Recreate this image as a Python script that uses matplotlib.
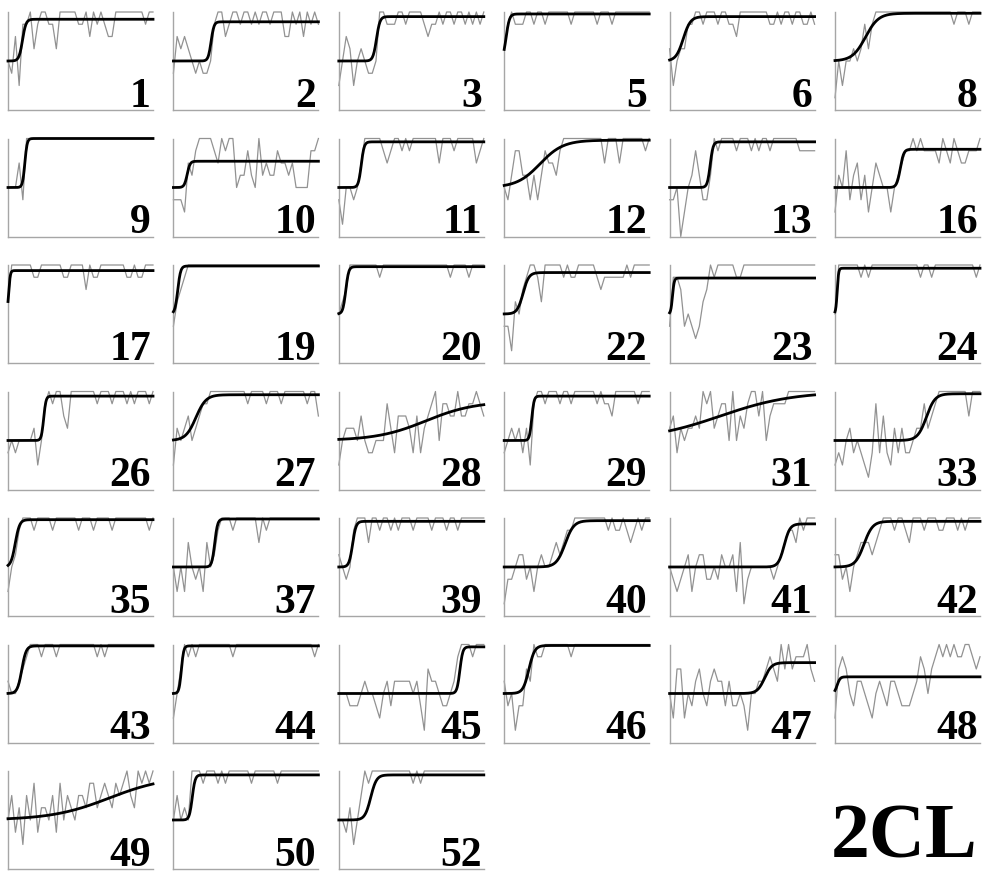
import numpy as np
import matplotlib.pyplot as plt

OUT = "out.png"

# panel numbers, row by row
LABELS = ["1", "2", "3", "5", "6", "8",
          "9", "10", "11", "12", "13", "16",
          "17", "19", "20", "22", "23", "24",
          "26", "27", "28", "29", "31", "33",
          "35", "37", "39", "40", "41", "42",
          "43", "44", "45", "46", "47", "48",
          "49", "50", "52"]

# correct responses per block (out of 8), one digit per block
BLOCKS = [
    "4362778578" "8775888887" "7868787668" "8888888788",  # 1
    "3656543433" "4788678878" "8787887888" "6687868787",  # 2
    "2465245433" "4887778878" "8887677878" "8788787878",  # 3
    "5787778878" "8788888878" "8888878887" "8888888888",  # 5
    "5245577887" "8887887768" "8888888778" "7887887787",  # 6
    "1424454575" "7888888888" "8888888888" "8878887888",  # 8
    "4446388888" "8888888888" "8888888888" "8888888888",  # 9
    "3332657888" "8768788455" "7548565576" "6564444778",  # 10
    "3144346888" "8876788787" "8888888688" "8788888678",  # 11
    "4357755353" "5766578888" "8888888688" "8688888878",  # 12
    "3340245753" "3587888878" "8878788788" "8888877777",  # 13
    "2547356352" "4654424567" "7878777768" "7687667778",  # 16
    "5888888778" "8888877888" "8687788888" "8877877888",  # 17
    "3567888888" "8888888888" "8888888888" "8888888888",  # 19
    "4568888888" "8788888888" "8888888888" "7888878888",  # 20
    "3315467887" "5888887877" "8888876777" "7778788888",  # 22
    "3776343235" "6878888877" "8888888888" "8888888888",  # 23
    "4888888787" "8888888888" "8887887888" "8888888878",  # 24
    "3434444524" "7878865888" "8888788878" "8878788878",  # 26
    "2545645677" "8888888888" "7888878887" "8888887886",  # 27
    "2455546433" "4447536665" "3635678477" "6686677876",  # 28
    "3454535278" "8788878878" "8888878776" "8888887888",  # 29
    "5635455658" "7856774846" "5788684677" "7788888888",  # 31
    "2324534321" "3736325353" "3455756788" "8888886888",  # 33
    "2457888788" "8878888887" "8887888878" "8888888878",  # 35
    "4242643426" "4578887888" "8886878888" "8888888888",  # 37
    "5434788868" "8788787888" "7888878887" "8878888888",  # 39
    "1334553424" "5445656778" "8888888878" "7787678788",  # 40
    "4323452455" "3343544526" "1344444434" "5677687888",  # 41
    "5534245666" "5678887887" "6888788877" "8887878888",  # 42
    "5445678887" "8887888888" "8888787888" "8888888888",  # 43
    "2468787888" "8888887888" "8888888888" "8888888878",  # 44
    "4443334544" "3245355555" "4531655433" "4578887888",  # 45
    "5341336587" "7888888878" "8888888888" "8888888888",  # 46
    "4266243564" "3565535334" "3144556765" "8686777865",  # 47
    "2676435543" "2454355433" "3457646787" "8787788767",  # 48
    "4635264735" "5463746546" "6577567657" "6786587878",  # 49
    "4645488878" "8878788888" "8788888878" "8888888888",  # 50
    "4435246878" "8888888888" "7878888888" "8888888888",  # 52
]

# logistic fit per panel: upper asymptote, midpoint and width (fraction of session)
FIT_TOP = [0.926, 0.90, 0.953, 0.98, 0.953, 0.987,
           1.0, 0.768, 0.966, 0.983, 0.966, 0.89,
           0.943, 0.99, 0.983, 0.923, 0.867, 0.967,
           0.953, 0.967, 0.90, 0.953, 1.0, 0.977,
           0.983, 0.99, 0.966, 0.973, 0.94, 0.966,
           0.986, 0.986, 0.976, 0.99, 0.815, 0.67,
           0.95, 0.96, 0.96]
FIT_MID = [0.10, 0.26, 0.26, 0.013, 0.094, 0.21,
           0.116, 0.095, 0.155, 0.247, 0.28, 0.45,
           0.005, 0.03, 0.048, 0.13, 0.02, 0.015,
           0.246, 0.155, 0.60, 0.19, 0.35, 0.63,
           0.05, 0.285, 0.095, 0.42, 0.79, 0.20,
           0.095, 0.055, 0.835, 0.17, 0.655, 0.015,
           0.70, 0.13, 0.22]
FIT_WIDTH = [0.012, 0.010, 0.012, 0.0116, 0.025, 0.045,
             0.008, 0.010, 0.010, 0.08, 0.010, 0.012,
             0.0055, 0.010, 0.010, 0.02, 0.006, 0.005,
             0.008, 0.035, 0.17, 0.008, 0.25, 0.03,
             0.015, 0.010, 0.012, 0.03, 0.02, 0.03,
             0.015, 0.008, 0.010, 0.02, 0.025, 0.01,
             0.20, 0.010, 0.02]
CHANCE = 0.5


def main() -> None:
    fig = plt.figure(figsize=(9.82, 8.76), dpi=100)
    W, H = 982.0, 876.0
    aw, ah = 145.0, 98.0
    xs = np.linspace(0, 1, 300)
    serif = ["Liberation Serif", "DejaVu Serif"]

    for k, lab in enumerate(LABELS):
        r, c = divmod(k, 6)
        left = 8 + c * 165.4
        top = 12 + r * 126.5
        ax = fig.add_axes([left / W, 1 - (top + ah) / H, aw / W, ah / H])

        y = np.array([int(ch) for ch in BLOCKS[k]]) / 8.0
        x = np.linspace(0, 1, len(y))
        ax.plot(x, y, color="#929292", lw=0.9, clip_on=False, zorder=2)

        fit = CHANCE + (FIT_TOP[k] - CHANCE) / (1 + np.exp(-(xs - FIT_MID[k]) / FIT_WIDTH[k]))
        ax.plot(xs, fit, color="black", lw=2.0, clip_on=False, zorder=3)

        ax.set_xlim(0, 1)
        ax.set_ylim(0, 1.0)
        for s in ("top", "right"):
            ax.spines[s].set_visible(False)
        for s in ("left", "bottom"):
            ax.spines[s].set_color("#a6a6a6")
            ax.spines[s].set_linewidth(1.0)
        ax.set_xticks([])
        ax.set_yticks([])
        ax.patch.set_alpha(0)

        ax.text(0.985, 0.035, lab, transform=ax.transAxes, ha="right", va="baseline",
                fontsize=30, fontweight="bold", family=serif, zorder=4)

    fig.text(978 / W, 2 / H, "2CL", ha="right", va="bottom",
             fontsize=56, fontweight="bold", family=serif)

    fig.savefig(OUT, dpi=100)
    plt.close(fig)


if __name__ == "__main__":
    main()
